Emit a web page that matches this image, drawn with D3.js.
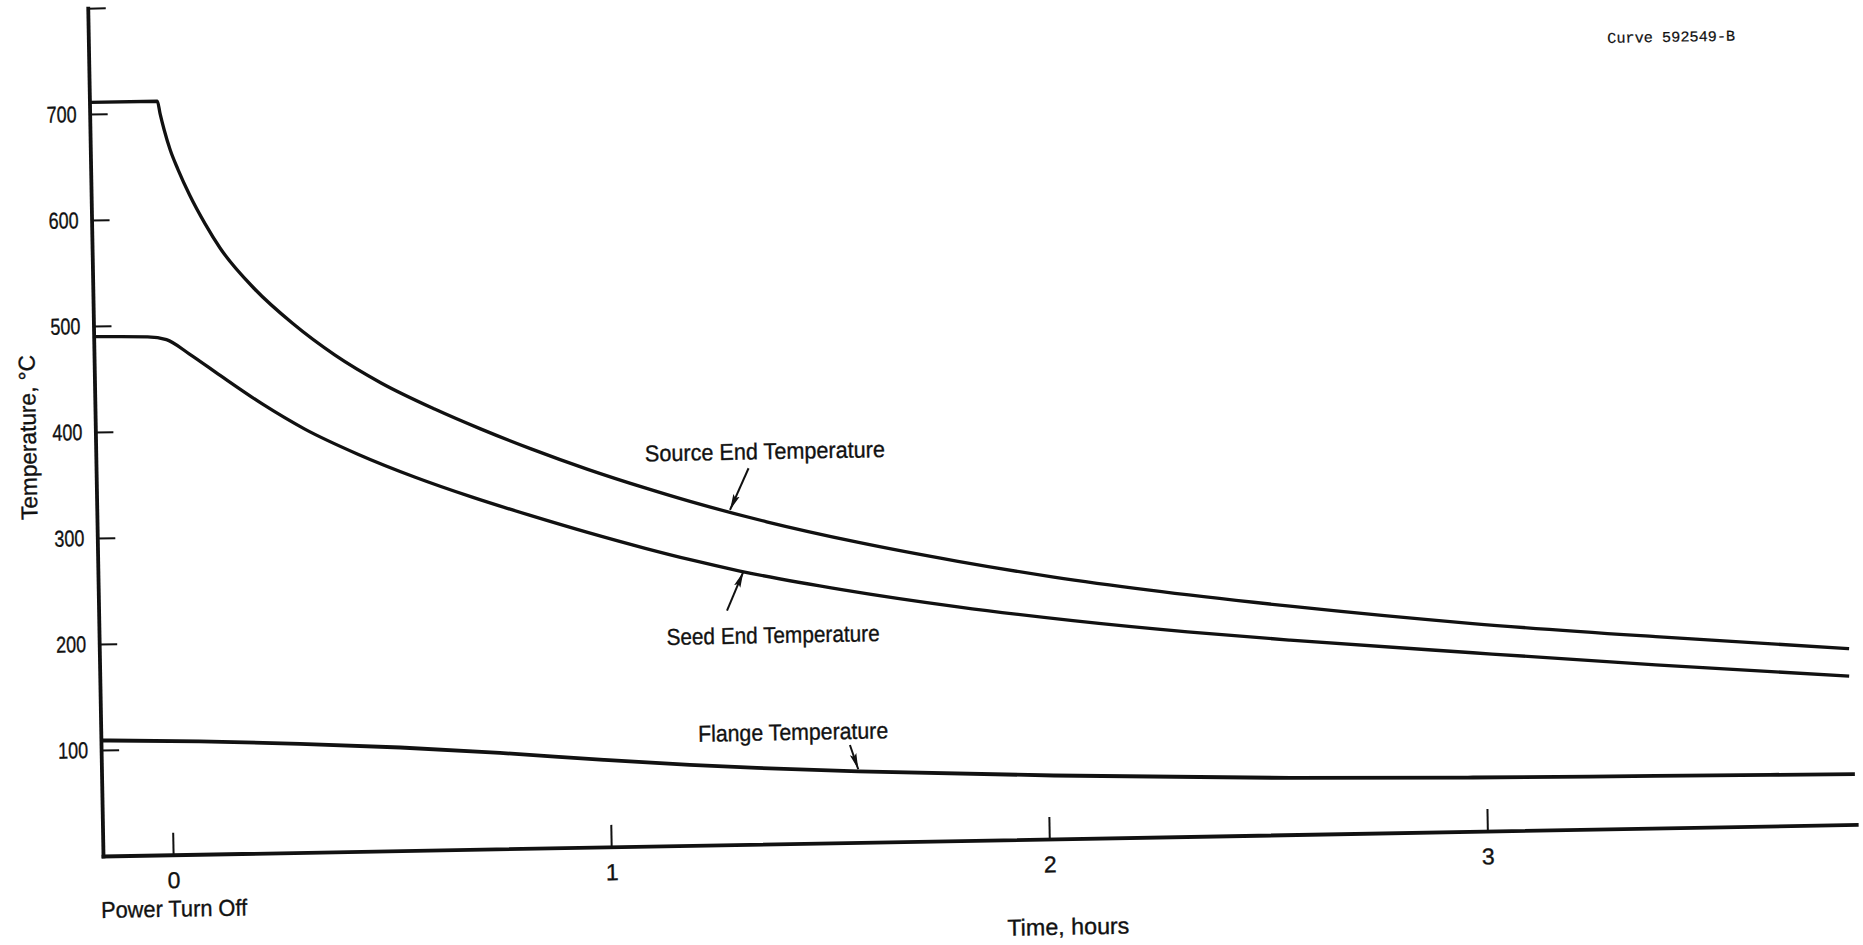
<!DOCTYPE html>
<html>
<head>
<meta charset="utf-8">
<script src="https://cdn.jsdelivr.net/npm/d3@7"></script>
<style>
  body { margin: 0; background: #fff; }
  svg text { font-family: "Liberation Sans", Arial, sans-serif; fill: #111; stroke: #111; stroke-width: 0.35px; }
</style>
</head>
<body>
<svg id="chart" width="1863" height="945"></svg>
<script>
// Tiempo en horas, temperatura en grados C
const sourceTime = [-0.16, -0.005, 0.0008, 0.0093, 0.0222, 0.0396, 0.0648, 0.099, 0.132, 0.21, 0.295, 0.39, 0.494, 0.615, 0.719, 0.832, 0.962, 1.092, 1.194, 1.368, 1.577, 1.803, 2.021, 2.239, 2.559, 2.975, 3.392, 3.833]
const sourceTemp = [711, 711, 699, 684, 665, 646, 622, 594.5, 571.5, 532, 499, 468.5, 441.5, 416, 396.5, 377, 356.5, 338, 324.5, 304, 283, 263.5, 247, 233, 215.5, 196, 180.5, 166]

const seedTime = [-0.16, -0.037, 0.006, 0.058, 0.127, 0.222, 0.317, 0.438, 0.568, 0.699, 0.829, 0.959, 1.09, 1.192, 1.305, 1.54, 1.801, 2.063, 2.324, 2.558, 2.974, 3.391, 3.832]
const seedTemp = [490, 489, 486, 472, 451.3, 423.7, 399.5, 374.7, 352, 332, 314, 297, 281, 269.5, 258, 238.5, 220.5, 205.5, 193, 183.5, 168.5, 154, 140]

const flangeTime = [-0.16, 0.066, 0.294, 0.523, 0.75, 0.987, 1.183, 1.336, 1.567, 2.013, 2.552, 2.969, 3.386, 3.841]
const flangeTemp = [109, 106.5, 102.5, 97.3, 90.5, 82.2, 76, 72, 67, 59.8, 53.5, 50.8, 49.2, 47.6]

const xTicks = [0, 1, 2, 3]
const yTicks = [100, 200, 300, 400, 500, 600, 700, 800]
const yLabels = ["100", "200", "300", "400", "500", "600", "700", ""]

// etiquetas: texto, inicio (t, T), flecha desde (t, T) hasta (t, T)
const labelText = ["Source End Temperature", "Seed End Temperature", "Flange Temperature"]
const labelAt = [[1.093, 363], [1.135, 189.5], [1.203, 97.7]]
const arrowFrom = [[1.329, 354.8], [1.274, 220.8], [1.549, 92]]
const arrowTo = [[1.285, 315.8], [1.313, 257.3], [1.567, 69]]
const labelWidth = [240, 213, 190]

const W = 1753.5
const H = 848

const svg = d3.select("#chart")

svg.append("defs").append("marker")
  .attr("id", "head")
  .attr("viewBox", "0 0 16 8")
  .attr("refX", 16)
  .attr("refY", 4)
  .attr("markerWidth", 16)
  .attr("markerHeight", 8)
  .attr("markerUnits", "userSpaceOnUse")
  .attr("orient", "auto")
  .append("path")
  .attr("d", "M0,0.6 L16,4 L0,7.4 L3,4 Z")
  .attr("fill", "#111")

// la hoja escaneada esta un poco girada
const g = svg.append("g")
  .attr("transform", "translate(103,856) rotate(-1.03) translate(0," + (-H) + ")")

const x = d3.scaleLinear().domain([-0.16, 3.842]).range([0, W])
const y = d3.scaleLinear().domain([0, 800]).range([H, 0])

const xAxis = d3.axisBottom(x)
  .tickValues(xTicks)
  .tickSize(-22)
  .tickSizeOuter(0)
  .tickPadding(17)
  .tickFormat(d3.format("d"))

const yAxis = d3.axisLeft(y)
  .tickValues(yTicks)
  .tickSize(-18)
  .tickSizeOuter(0)
  .tickPadding(13)
  .tickFormat((d, i) => yLabels[i])

const gx = g.append("g").attr("transform", "translate(0," + H + ")").call(xAxis)
const gy = g.append("g").call(yAxis)

for (const ax of [gx, gy]) {
  ax.attr("font-family", null).attr("font-size", null)
  ax.select(".domain").attr("stroke", "#111").attr("stroke-width", 3.8).attr("stroke-linecap", "square")
  ax.selectAll(".tick line").attr("stroke", "#111").attr("stroke-width", 2)
  ax.selectAll(".tick text").attr("font-size", 23).attr("fill", "#111")
}
gy.selectAll(".tick text")
  .filter(d => d < 800)
  .attr("textLength", 30)
  .attr("lengthAdjust", "spacingAndGlyphs")

g.append("text")
  .attr("x", x(0))
  .attr("y", H + 62)
  .attr("text-anchor", "middle")
  .attr("font-size", 23)
  .attr("textLength", 146)
  .attr("lengthAdjust", "spacingAndGlyphs")
  .text("Power Turn Off")

g.append("text")
  .attr("x", x(2.04))
  .attr("y", H + 96)
  .attr("text-anchor", "middle")
  .attr("font-size", 23)
  .attr("textLength", 122)
  .attr("lengthAdjust", "spacingAndGlyphs")
  .text("Time, hours")

g.append("text")
  .attr("transform", "translate(-59.5," + y(396) + ") rotate(-90)")
  .attr("text-anchor", "middle")
  .attr("font-size", 23)
  .attr("textLength", 165)
  .attr("lengthAdjust", "spacingAndGlyphs")
  .text("Temperature, °C")

g.append("text")
  .attr("x", x(3.306))
  .attr("y", y(741.4))
  .style("font-family", "'Liberation Mono', 'DejaVu Sans Mono', monospace")
  .style("stroke-width", "0.2px")
  .attr("font-size", 15)
  .attr("textLength", 128)
  .attr("lengthAdjust", "spacingAndGlyphs")
  .text("Curve 592549-B")

const line = d3.line()
  .x(d => x(d[0]))
  .y(d => y(d[1]))
  .curve(d3.curveMonotoneX)

const series = [
  d3.zip(sourceTime, sourceTemp),
  d3.zip(seedTime, seedTemp),
  d3.zip(flangeTime, flangeTemp)
]

g.selectAll(".curva")
  .data(series)
  .enter().append("path")
  .attr("class", "curva")
  .attr("d", line)
  .attr("fill", "none")
  .attr("stroke", "#111")
  .attr("stroke-width", (d, i) => i == 2 ? 3.8 : 3.3)

g.selectAll(".etiqueta")
  .data(labelText)
  .enter().append("text")
  .attr("class", "etiqueta")
  .attr("x", (d, i) => x(labelAt[i][0]))
  .attr("y", (d, i) => y(labelAt[i][1]))
  .attr("font-size", 23)
  .attr("textLength", (d, i) => labelWidth[i])
  .attr("lengthAdjust", "spacingAndGlyphs")
  .text(d => d)

g.selectAll(".flecha")
  .data(arrowFrom)
  .enter().append("line")
  .attr("class", "flecha")
  .attr("x1", d => x(d[0]))
  .attr("y1", d => y(d[1]))
  .attr("x2", (d, i) => x(arrowTo[i][0]))
  .attr("y2", (d, i) => y(arrowTo[i][1]))
  .attr("stroke", "#111")
  .attr("stroke-width", 2)
  .attr("marker-end", "url(#head)")
</script>
</body>
</html>
